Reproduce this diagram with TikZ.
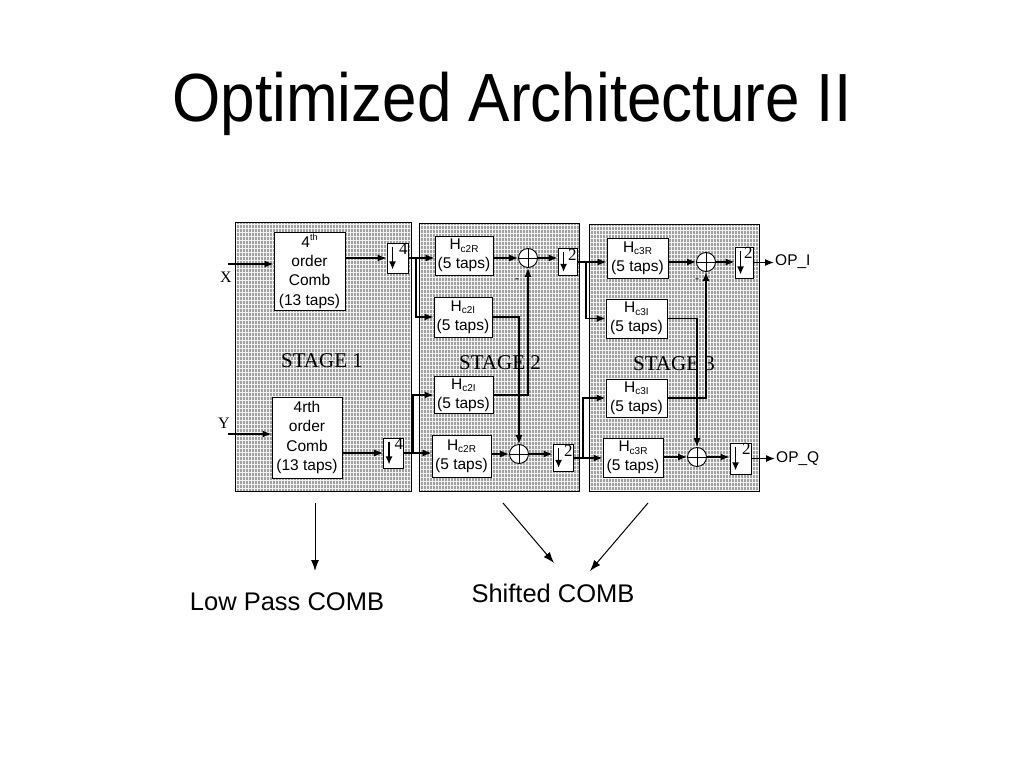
\documentclass[tikz,border=0pt]{standalone}
\usepackage{fontspec}
\setmainfont{Liberation Serif}
\setsansfont{Liberation Sans}
\usetikzlibrary{arrows.meta,calc}
\definecolor{panelgray}{RGB}{160,160,160}
\definecolor{gridw}{RGB}{242,242,242}
\newcommand\hsub[2]{#1\raisebox{-0.35ex}{\fontsize{10}{10}\selectfont #2}}
\newcommand\thsup{\raisebox{0.85ex}{\fontsize{9}{9}\selectfont th}}
\newcommand\dsmark[2]{%
  \draw[line width=1.3pt,-{Latex[length=8pt,width=7pt]}] ([xshift=6pt,yshift=-4pt]#1.north west) -- ([xshift=6pt,yshift=4pt]#1.south west);
  \node[font=\rmfamily\fontsize{17}{17}\selectfont,anchor=north east,inner sep=0.6pt] (#1n) at (#1.north east) {#2};}
\newcommand\sumplus[1]{\draw[line width=0.9pt] (#1.north) -- (#1.south) (#1.west) -- (#1.east);}
\begin{document}
\begin{tikzpicture}[x=1pt,y=-1pt,
  blk/.style={draw=black,line width=0.9pt,fill=white,inner sep=0pt,align=center,
    font=\sffamily\fontsize{15.5}{19.3}\selectfont},
  dsbox/.style={draw=black,line width=0.9pt,fill=white,inner sep=0pt},
  sumc/.style={circle,draw=black,line width=0.9pt,fill=white,minimum size=19pt,inner sep=0pt},
  arr/.style={line width=1.3pt,-{Latex[length=9pt,width=7pt]}},
  thinarr/.style={line width=1pt,-{Latex[length=11pt,width=8pt]}},
  stagelbl/.style={font=\rmfamily\fontsize{21}{21}\selectfont,inner sep=0pt},
  gline/.style={gridw,line width=0.75pt},
  iolbl/.style={font=\rmfamily\fontsize{16}{16}\selectfont,inner sep=0pt},
  oplbl/.style={font=\sffamily\fontsize{15.5}{15.5}\selectfont,inner sep=1pt,anchor=west},
  big/.style={font=\sffamily\fontsize{25.5}{25.5}\selectfont,inner sep=0pt,anchor=base}
]
\fill[white] (0,0) rectangle (1024,768);
\useasboundingbox (0,0) rectangle (1024,768);

% title
\node[font=\sffamily\fontsize{62}{62}\selectfont,anchor=base,inner sep=0pt] (title) at (512,121)
  {\scalebox{1}[1.1]{Optimized Architecture II}};

% panels
\foreach \xa/\xb/\ya/\yb in {235/411/222/491, 419/579/223/491, 589/759/224/491} {
  \fill[panelgray] (\xa,\ya) rectangle (\xb,\yb);
  \begin{scope}
    \clip (\xa,\ya) rectangle (\xb,\yb);
    \foreach \gx in {1,4,...,181} \draw[gline] ({\xa+\gx},\ya) -- ({\xa+\gx},\yb);
    \foreach \gy in {2,6,...,270} \draw[gline] (\xa,{\ya+\gy}) -- (\xb,{\ya+\gy});
  \end{scope}
  \draw[line width=1pt] (\xa,\ya) rectangle (\xb,\yb);
}

% stage labels
\node[stagelbl] (st1) at (322,361) {STAGE 1};
\node[stagelbl] (st2) at (500,363) {STAGE 2};
\node[stagelbl] (st3) at (674,364) {STAGE 3};

% stage 1
\node[blk,minimum width=71pt,minimum height=78pt] (c1) at (309.5,271) {4\thsup\\order\\Comb\\(13 taps)};
\node[blk,minimum width=70pt,minimum height=81pt] (c2) at (307,437.5) {4rth\\order\\Comb\\(13 taps)};
\node[dsbox,minimum width=21pt,minimum height=30pt] (d1) at (397.5,258) {};
\node[dsbox,minimum width=20pt,minimum height=30pt] (d2) at (393.5,453) {};
\dsmark{d1}{4}
\dsmark{d2}{4}
\node[iolbl] (xl) at (226,277) {X};
\node[iolbl] (yl) at (224,423) {Y};

% stage 2
\node[blk,minimum width=58pt,minimum height=39pt] (h1) at (464,255.5) {\hsub{H}{c2R}\\(5 taps)};
\node[blk,minimum width=58pt,minimum height=40pt] (h2) at (463,317) {\hsub{H}{c2I}\\(5 taps)};
\node[blk,minimum width=59pt,minimum height=37pt] (h3) at (463.5,395) {\hsub{H}{c2I}\\(5 taps)};
\node[blk,minimum width=59pt,minimum height=42pt] (h4) at (461.5,456) {\hsub{H}{c2R}\\(5 taps)};
\node[sumc] (s1) at (528,258) {};
\node[sumc] (s2) at (519,454) {};
\sumplus{s1}
\sumplus{s2}
\node[dsbox,minimum width=19pt,minimum height=27pt] (e1) at (567.5,262) {};
\node[dsbox,minimum width=20pt,minimum height=27pt] (e2) at (563,458) {};
\dsmark{e1}{2}
\dsmark{e2}{2}
\node[font=\sffamily\fontsize{12}{12}\selectfont,inner sep=0pt] (m1) at (517,281) {-};

% stage 3
\node[blk,minimum width=61pt,minimum height=40pt] (h5) at (637.5,258) {\hsub{H}{c3R}\\(5 taps)};
\node[blk,minimum width=61pt,minimum height=39pt] (h6) at (636.5,318.5) {\hsub{H}{c3I}\\(5 taps)};
\node[blk,minimum width=61pt,minimum height=38pt] (h7) at (636.5,398) {\hsub{H}{c3I}\\(5 taps)};
\node[blk,minimum width=60pt,minimum height=39pt] (h8) at (633,457.5) {\hsub{H}{c3R}\\(5 taps)};
\node[sumc] (s3) at (706,262) {};
\node[sumc] (s4) at (697,457) {};
\sumplus{s3}
\sumplus{s4}
\node[dsbox,minimum width=18pt,minimum height=31pt] (f1) at (744,262.5) {};
\node[dsbox,minimum width=21pt,minimum height=31pt] (f2) at (740.5,458.5) {};
\dsmark{f1}{2}
\dsmark{f2}{2}
\node[font=\sffamily\fontsize{12}{12}\selectfont,inner sep=0pt] (m2) at (697,281) {-};
\node[oplbl] (op1) at (774,262) {OP\_I};
\node[oplbl] (op2) at (775,459) {OP\_Q};

% connectors stage 1
\coordinate (xin) at (228,264);
\coordinate (yin) at (228,434);
\draw[arr] (xin) -- (xin -| c1.west);
\draw[arr] (yin) -- (yin -| c2.west);
\draw[arr] (d1.west -| c1.east) -- (d1.west);
\draw[arr] (d2.west -| c2.east) -- (d2.west);

% stage 1 -> 2
\coordinate (j1) at (416,258);
\coordinate (j2) at (413,453);
\draw[arr] (d1.east) -- (d1.east -| h1.west);
\draw[arr] (j1) |- (h2.west);
\draw[arr] (d2.east) -- (d2.east -| h4.west);
\draw[arr] (j2) |- (h3.west);

% stage 2
\draw[arr] (s1.west -| h1.east) -- (s1.west);
\draw[arr] (s2.west -| h4.east) -- (s2.west);
\draw[arr] (h2.east) -| (s2.north);
\draw[arr] (h3.east) -| (s1.south);
\draw[arr] (s1.east) -- (s1.east -| e1.west);
\draw[arr] (s2.east) -- (s2.east -| e2.west);

% stage 2 -> 3
\coordinate (j3) at (586,262);
\coordinate (j4) at (583,458);
\draw[arr] (e1.east) -- (e1.east -| h5.west);
\draw[arr] (j3) |- (h6.west);
\draw[arr] (e2.east) -- (e2.east -| h8.west);
\draw[arr] (j4) |- (h7.west);

% stage 3
\draw[arr] (s3.west -| h5.east) -- (s3.west);
\draw[arr] (s4.west -| h8.east) -- (s4.west);
\draw[arr] (h6.east) -| (s4.north);
\draw[arr] (h7.east) -| (s3.south);
\draw[arr] (s3.east) -- (s3.east -| f1.west);
\draw[arr] (s4.east) -- (s4.east -| f2.west);
\draw[arr] (f1.east) -- (f1.east -| op1.west);
\draw[arr] (f2.east) -- (f2.east -| op2.west);

% bottom annotations
\node[big] (lp) at (287,610) {Low Pass COMB};
\node[big] (sc) at (553,602) {Shifted COMB};
\coordinate (a1) at (315,503);
\coordinate (b1) at (315,571);
\coordinate (a2) at (503,503);
\coordinate (b2) at (554,563);
\coordinate (a3) at (648,503);
\coordinate (b3) at (590,571);
\draw[thinarr] (a1) -- (b1);
\draw[thinarr] (a2) -- (b2);
\draw[thinarr] (a3) -- (b3);
\end{tikzpicture}
\end{document}
